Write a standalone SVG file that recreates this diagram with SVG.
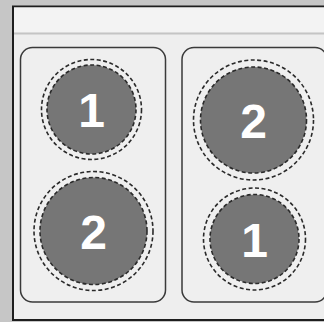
<svg xmlns="http://www.w3.org/2000/svg" width="324" height="322" viewBox="0 0 324 322">
<style>
.panel{fill:#efefef;stroke:#3a3a3a;stroke-width:1.5}
.ring{fill:none;stroke:#2a2a2a;stroke-width:1.6;stroke-dasharray:4 2.5}
.disc{fill:#767676;stroke:#2a2a2a;stroke-width:1.6;stroke-dasharray:4 2.5}
.num{font-family:"Liberation Sans",Arial,sans-serif;font-weight:bold;font-size:48px;fill:#fff;text-anchor:middle}
</style>
<rect x="0" y="0" width="324" height="322" fill="#c6c6c6"/>
<rect x="13" y="6.5" width="320" height="313.5" fill="#eeeeee" stroke="#1e1e1e" stroke-width="2"/>
<rect x="14" y="7.5" width="310" height="25" fill="#f3f3f3"/>
<line x1="14" y1="33.5" x2="324" y2="33.5" stroke="#c4c4c4" stroke-width="2"/>
<g id="panel-left">
<rect class="panel" x="20.5" y="47.5" width="145" height="254.5" rx="12"/>
</g>
<g id="panel-right">
<rect class="panel" x="182" y="47.5" width="145" height="254.5" rx="12"/>
</g>
<g id="node-left-1">
<circle class="ring" cx="91.5" cy="109.5" r="50"/>
<circle class="disc" cx="91.5" cy="109.5" r="44.5"/>
<text class="num" x="91.5" y="127">1</text>
</g>
<g id="node-left-2">
<circle class="ring" cx="93.5" cy="231" r="59.5"/>
<circle class="disc" cx="93.5" cy="231" r="53.5"/>
<text class="num" x="93.5" y="248.5">2</text>
</g>
<g id="node-right-2">
<circle class="ring" cx="253.5" cy="120" r="60"/>
<circle class="disc" cx="253.5" cy="120" r="53"/>
<text class="num" x="253.5" y="137.5">2</text>
</g>
<g id="node-right-1">
<circle class="ring" cx="254.5" cy="239" r="51"/>
<circle class="disc" cx="254.5" cy="239" r="44.5"/>
<text class="num" x="254.5" y="256.5">1</text>
</g>
<g id="connectors"></g>
</svg>
